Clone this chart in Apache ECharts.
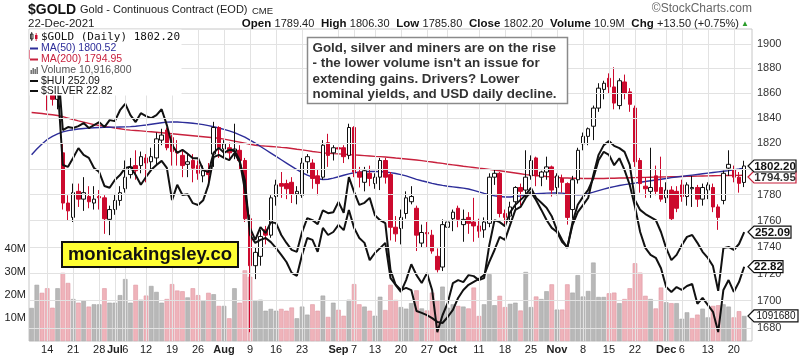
<!DOCTYPE html>
<html><head><meta charset="utf-8">
<script src="https://cdn.jsdelivr.net/npm/echarts@6/dist/echarts.min.js"></script>
<style>html,body{margin:0;padding:0;background:#fff}#c{width:803px;height:358px}</style>
</head><body><div id="c"></div>
<script>
// ---------- DATA ----------
const dates = ['2021-06-09','2021-06-10','2021-06-11','2021-06-14','2021-06-15','2021-06-16','2021-06-17','2021-06-18','2021-06-21','2021-06-22','2021-06-23','2021-06-24','2021-06-25','2021-06-28','2021-06-29','2021-06-30',
'2021-07-01','2021-07-02','2021-07-06','2021-07-07','2021-07-08','2021-07-09','2021-07-12','2021-07-13','2021-07-14','2021-07-15','2021-07-16','2021-07-19','2021-07-20','2021-07-21','2021-07-22','2021-07-23','2021-07-26','2021-07-27','2021-07-28','2021-07-29','2021-07-30',
'2021-08-02','2021-08-03','2021-08-04','2021-08-05','2021-08-06','2021-08-09','2021-08-10','2021-08-11','2021-08-12','2021-08-13','2021-08-16','2021-08-17','2021-08-18','2021-08-19','2021-08-20','2021-08-23','2021-08-24','2021-08-25','2021-08-26','2021-08-27','2021-08-30','2021-08-31',
'2021-09-01','2021-09-02','2021-09-03','2021-09-07','2021-09-08','2021-09-09','2021-09-10','2021-09-13','2021-09-14','2021-09-15','2021-09-16','2021-09-17','2021-09-20','2021-09-21','2021-09-22','2021-09-23','2021-09-24','2021-09-27','2021-09-28','2021-09-29','2021-09-30',
'2021-10-01','2021-10-04','2021-10-05','2021-10-06','2021-10-07','2021-10-08','2021-10-11','2021-10-12','2021-10-13','2021-10-14','2021-10-15','2021-10-18','2021-10-19','2021-10-20','2021-10-21','2021-10-22','2021-10-25','2021-10-26','2021-10-27','2021-10-28','2021-10-29',
'2021-11-01','2021-11-02','2021-11-03','2021-11-04','2021-11-05','2021-11-08','2021-11-09','2021-11-10','2021-11-11','2021-11-12','2021-11-15','2021-11-16','2021-11-17','2021-11-18','2021-11-19','2021-11-22','2021-11-23','2021-11-24','2021-11-26','2021-11-29','2021-11-30',
'2021-12-01','2021-12-02','2021-12-03','2021-12-06','2021-12-07','2021-12-08','2021-12-09','2021-12-10','2021-12-13','2021-12-14','2021-12-15','2021-12-16','2021-12-17','2021-12-20','2021-12-21','2021-12-22'];

const open = [1895,1888,1896,1875,1864,1855,1812.5,1773.5,1762.5,1782.5,
1776.5,1778.5,1773.5,1778.5,1777.5,1761,1768.5,1775.5,1784.5,1795.5,
1802.5,1802.5,1808.5,1805.5,1808.5,1822.5,1830.5,1824.5,1813.5,1810.5,
1803.5,1806.5,1802.5,1794.5,1798.5,1811.5,1832.5,1815.5,1816.5,1813.5,
1814.5,1806.5,1761.5,1726,1733,1753,1749,1778.5,1788.5,1788.5,
1789.5,1780.5,1779.5,1805.5,1804.5,1794.5,1793.5,1820.5,1812.5,1816.5,
1816.5,1810.5,1832.5,1797.5,1789.5,1796.5,1788.5,1793.5,1806.5,1795.5,
1755,1754,1765.5,1774.5,1769.5,1743,1751,1749,1733,1725,
1755,1761.5,1769.5,1757,1762.5,1759,1756,1753,1758,1793.5,
1796.5,1765.5,1763.5,1774.5,1785.5,1783.5,1794.5,1808.5,1793.5,1797.5,
1801.5,1785.5,1792.5,1788.5,1768.5,1791.5,1819.5,1825.5,1833.5,1848,
1863,1872,1865,1850,1869,1861,1848,1806.5,1786.5,1782.5,
1794.5,1785.5,1777.5,1783.5,1782.5,1787.5,1778.5,1784.5,1785.5,1776.5,
1783.5,1785.5,1770.5,1775.5,1800.5,1799.5,1793.5,1789.4];

const high = [1900,1902,1903,1879,1866,1864,1819.5,1779.5,1788.5,1788.5,
1793.5,1786.5,1786.5,1783.5,1779.5,1771.5,1780.5,1786.5,1806.5,1808.5,
1814.5,1813.5,1811.5,1816.5,1828.5,1831.5,1832.5,1826.5,1822.5,1814.5,
1812.5,1811.5,1806.5,1802.5,1804.5,1837,1833.5,1822.5,1820.5,1835.5,
1818.5,1808.5,1764.5,1740,1753,1756,1779.5,1791.5,1797.5,1791.5,
1793.5,1786.5,1808.5,1811.5,1807.5,1799.5,1822.5,1827.5,1818.5,1819.5,
1818.5,1835.5,1833.5,1801.5,1801.5,1802.5,1796.5,1808.5,1808.5,1797.5,
1763.5,1768.5,1782.5,1786.5,1771.5,1757,1759,1753,1739,1761,
1762.5,1768.5,1771.5,1768.5,1766.5,1777.5,1761.5,1762.5,1796.5,1799.5,
1797.5,1768.5,1774.5,1786.5,1788.5,1814.5,1810.5,1809.5,1798.5,1809.5,
1802.5,1796.5,1795.5,1789.5,1794.5,1816.5,1828.5,1832.5,1850,1868,
1870,1876,1881,1872,1875,1864,1850,1808.5,1793.5,1816.5,
1802.5,1809.5,1789.5,1786.5,1786.5,1791.5,1789.5,1794.5,1787.5,1788.5,
1789.5,1788.5,1772.5,1798.5,1814.5,1802.5,1797.5,1806.3];

const low = [1885,1883,1870,1846,1850,1847,1768.5,1760,1759,1770.5,
1767.5,1769.5,1768.5,1768.5,1750,1749,1764.5,1771.5,1781.5,1792.5,
1791.5,1796.5,1789.5,1799.5,1802.5,1818.5,1814.5,1802.5,1802.5,1793.5,
1793.5,1789.5,1791.5,1789.5,1786.5,1801.5,1808.5,1808.5,1806.5,1807.5,
1799.5,1759,1677,1716,1726,1742,1747,1771.5,1777.5,1776.5,
1773.5,1772.5,1777.5,1796.5,1784.5,1779.5,1791.5,1801.5,1806.5,1799.5,
1804.5,1807.5,1793.5,1785.5,1782.5,1786.5,1784.5,1783.5,1788.5,1745,
1744,1742,1761.5,1772.5,1737,1740,1740,1735,1721,1722,
1747,1752,1755,1744,1750,1744,1747,1747,1755,1787.5,
1762.5,1757,1759,1768.5,1771.5,1776.5,1791.5,1786.5,1786.5,1791.5,
1778.5,1779.5,1781.5,1757,1761.5,1788.5,1814.5,1818.5,1822.5,1845,
1855,1860,1847,1847,1855,1845,1801.5,1781.5,1777.5,1777.5,
1779.5,1774.5,1773.5,1760,1766.5,1774.5,1771.5,1770.5,1770.5,1771.5,
1776.5,1766.5,1753,1772.5,1794.5,1789.5,1781.5,1785.8];

const close = [1888,1896,1878,1864,1855,1859,1773.5,1767.5,1781.5,1776.5,
1781.5,1774.5,1776.5,1777.5,1761.5,1768.5,1775.5,1781.5,1793.5,1801.5,
1798.5,1809.5,1804.5,1809.5,1823.5,1826.5,1816.5,1813.5,1812.5,1802.5,
1805.5,1800.5,1796.5,1798.5,1795.5,1832.5,1816.5,1819.5,1812.5,1815.5,
1806.5,1761.5,1726,1736,1748,1749,1777.5,1787.5,1786.5,1784.5,
1780.5,1782.5,1804.5,1809.5,1792.5,1788.5,1818.5,1810.5,1816.5,1815.5,
1809.5,1832.5,1797.5,1793.5,1798.5,1792.5,1793.5,1806.5,1793.5,1755,
1750,1762.5,1777.5,1778.5,1749,1751,1750,1737,1723,1757,
1759,1766.5,1761,1761,1758,1756,1752,1759,1793.5,1796.5,
1765.5,1762.5,1770.5,1785.5,1782.5,1793.5,1806.5,1794.5,1797.5,1801.5,
1783.5,1794.5,1789.5,1762.5,1791.5,1814.5,1825.5,1831.5,1848,1864,
1868,1865,1852,1870,1860,1851,1805.5,1788.5,1784.5,1785.5,
1782.5,1776.5,1783.5,1761.5,1769.5,1778.5,1787.5,1785.5,1776.5,1785.5,
1787.5,1770.5,1762.5,1796.5,1803.5,1793.5,1788.7,1802.2];

// volume in millions
const volume = [14.4,24.5,21.0,23.0,14.5,23.0,29.7,25.3,18.3,16.7,
17.5,15.0,16.0,16.0,23.0,16.7,16.7,20.0,27.0,16.7,
24.5,18.0,19.8,24.0,21.4,16.7,18.3,24.8,22.0,21.7,
19.0,23.0,20.0,17.5,21.0,20.4,15.3,15.3,9.9,23.0,
16.7,30.8,28.0,17.5,18.0,13.2,14.0,13.2,14.0,13.2,
14.6,9.9,15.0,11.5,16.0,13.2,19.8,10.5,16.7,13.6,
11.0,18.0,24.8,16.0,15.0,13.2,11.0,19.3,13.5,24.5,
17.9,14.8,14.1,16.5,22.1,14.2,13.3,21.1,17.5,23.7,
14.5,16.0,15.3,15.0,14.2,23.3,10.9,16.0,29.1,15.6,
19.7,14.8,16.2,16.7,13.3,30.1,14.8,19.4,18.3,21.7,
24.7,13.7,13.7,24.7,21.1,28.7,19.4,21.8,34.2,19.2,
19.2,20.8,21.1,16.5,18.3,23.0,33.9,29.8,19.7,18.3,
14.2,23.3,16.9,16.5,16.5,9.7,12.5,10.0,11.5,14.1,
10.3,15.3,15.6,16.0,15.0,10.3,13.0,10.9168];

const ma50 = [1811,1815.5,1819.5,1823,1825.5,1827.5,1829,1830,1830.7,1831.3,
1831.7,1832,1832.3,1832.5,1832.6,1832.7,1832.8,1832.9,1833,1833.2,
1833.5,1834,1834.5,1835.1,1835.7,1836.3,1836.8,1837,1836.9,1836.6,
1836.3,1835.9,1835.4,1834.8,1834,1833.1,1832.1,1831,1829.8,1828.5,
1826.7,1824.8,1822.5,1820.1,1817.5,1814.9,1812.3,1809.7,1807.1,1804.5,
1801.9,1799.3,1797,1795.1,1793.5,1792.3,1791.7,1791.9,1792.7,1793.8,
1795,1796.1,1796.9,1797.4,1797.7,1797.9,1797.9,1797.8,1797.5,1797,
1796.3,1795.5,1794.5,1793.2,1791.8,1790.7,1789.7,1788.7,1787.8,1787.1,
1786.5,1786,1785.5,1785,1784.3,1783.3,1782.1,1780.9,1779.9,1779.1,
1778.5,1778.2,1778.2,1778.5,1779,1779.6,1780.2,1780.6,1780.9,1781.1,
1781.2,1781.2,1781.1,1780.7,1780.2,1779.9,1780.1,1780.8,1781.9,1783.1,
1784.2,1785.3,1786.2,1787,1787.7,1788.3,1788.9,1789.5,1790.1,1790.7,
1791.3,1791.9,1792.5,1793.1,1793.6,1794.1,1794.6,1795.1,1795.6,1796.1,
1796.6,1797.1,1797.6,1798.1,1798.6,1799.2,1799.8,1800.52];

const ma200 = [1844.4,1844.0,1843.6,1843.1,1842.6,1842.1,1841.1,1840.0,1838.9,1837.8,
1836.8,1835.8,1834.8,1834.1,1833.4,1832.8,1832.1,1831.5,1830.8,1830.4,
1830.1,1829.8,1829.4,1829.1,1828.7,1828.3,1827.9,1827.6,1827.2,1826.8,
1826.4,1826.0,1825.6,1825.2,1824.8,1824.4,1824.0,1823.3,1822.5,1821.7,
1820.9,1820.1,1819.3,1818.5,1818.1,1817.8,1817.5,1817.2,1816.8,1816.5,
1815.9,1815.3,1814.8,1814.2,1813.6,1813.1,1812.5,1812.2,1811.9,1811.7,
1811.4,1811.1,1810.9,1810.6,1810.3,1810.0,1809.7,1809.5,1809.2,1808.8,
1808.4,1808.1,1807.7,1807.3,1806.9,1806.4,1805.8,1805.3,1804.7,1804.2,
1803.6,1803.1,1802.6,1802.0,1801.5,1801.0,1800.5,1800.1,1799.6,1799.1,
1798.5,1797.9,1797.3,1796.7,1796.1,1795.5,1795.1,1794.8,1794.4,1794.0,
1793.7,1793.3,1792.9,1792.8,1792.7,1792.6,1792.5,1792.5,1792.5,1792.5,
1792.5,1792.6,1792.7,1792.8,1792.9,1793.0,1793.1,1793.2,1793.3,1793.4,
1793.5,1793.6,1793.7,1793.8,1793.9,1794.0,1794.1,1794.2,1794.3,1794.4,
1794.5,1794.6,1794.7,1794.75,1794.8,1794.85,1794.9,1794.95];

const hui = [299.4,300.7,298.0,296.7,294.0,291.4,270.0,269.5,271.9,274.5,
272.7,271.9,269.2,268.1,264.4,263.9,266.0,267.3,269.2,269.5,
267.3,264.7,266.8,268.7,270.0,271.1,269.2,260.6,264.7,262.0,
262.2,259.8,259.3,260.6,264.7,272.1,272.7,271.9,271.3,273.2,
270.8,266.0,251.3,249.2,250.0,250.5,249.4,247.8,246.0,244.1,
241.2,240.4,246.0,250.5,250.0,246.8,253.2,251.3,252.1,254.0,
252.6,258.0,253.2,250.5,249.2,244.6,246.5,247.8,249.2,239.8,
238.0,236.6,237.2,236.6,231.0,230.5,229.9,229.1,228.1,227.8,
229.4,231.3,234.5,236.6,238.0,238.8,239.6,240.6,244.1,247.3,
250.8,250.0,254.0,258.0,258.8,261.2,262.8,260.6,258.0,255.3,
253.2,252.1,249.4,248.1,254.0,257.4,259.3,261.2,267.3,272.7,
275.3,276.4,275.1,274.5,273.5,270.0,260.6,258.0,256.9,256.1,
255.3,252.1,247.8,244.6,246.0,248.6,250.8,251.3,249.2,246.8,
245.2,243.0,236.4,247.8,248.1,247.3,248.9,252.09];

const silver = [27.40,27.50,27.36,27.30,27.09,26.95,25.58,25.64,25.62,25.66,
25.72,25.62,25.68,25.74,25.64,25.78,25.76,25.98,26.11,25.88,
25.74,25.92,25.86,25.82,25.88,26.00,25.68,25.28,25.12,25.18,
25.10,25.01,25.01,24.77,24.73,25.12,25.22,25.12,25.18,25.17,
24.97,24.37,23.60,23.36,23.62,23.50,23.72,23.70,23.46,23.30,
23.16,23.12,23.52,23.80,23.76,23.68,23.96,23.90,23.92,24.13,
23.91,24.63,24.33,24.07,24.11,24.21,23.86,23.76,23.70,22.75,
22.45,22.31,22.55,22.87,22.65,22.49,22.69,22.35,21.50,21.84,
22.09,22.49,22.55,22.51,22.65,22.63,22.55,22.59,23.26,23.76,
23.72,23.64,23.92,24.07,24.17,24.27,24.41,24.21,24.11,24.01,
23.84,23.56,23.36,23.20,23.72,24.07,24.23,24.37,24.61,24.97,
25.14,25.08,24.87,25.01,24.77,24.47,24.03,23.52,23.20,23.06,
23.00,22.79,22.41,22.31,22.41,22.35,22.43,22.47,22.07,22.19,
22.05,21.91,21.50,22.35,22.55,22.31,22.51,22.82];

const tickDates = ['2021-06-14','2021-06-21','2021-06-28','2021-07-01','2021-07-06','2021-07-12','2021-07-19','2021-07-26','2021-08-02','2021-08-09','2021-08-16','2021-08-23','2021-09-01','2021-09-07','2021-09-13','2021-09-20','2021-09-27','2021-10-01','2021-10-11','2021-10-18','2021-10-25','2021-11-01','2021-11-08','2021-11-15','2021-11-22','2021-12-01','2021-12-06','2021-12-13','2021-12-20'];
const tickLabels = ['14','21','28','Jul','6','12','19','26','Aug','9','16','23','Sep','7','13','20','27','Oct','11','18','25','Nov','8','15','22','Dec','6','13','20'];
const priceTicks = [1680,1700,1720,1740,1760,1780,1800,1820,1840,1860,1880,1900];
const volumeTicks = [10,20,30,40];

// ---------- CHART ----------
const FONT = '"Liberation Sans", Arial, sans-serif';
const chart = echarts.init(document.getElementById('c'));
const cats = dates.concat(['']);
const tickMap = {};
tickDates.forEach((d, i) => { tickMap[d] = tickLabels[i]; });
const candleData = dates.map((d, i) => [open[i], close[i], low[i], high[i]]);
const pinkStyle = { color: '#efb3ba', borderColor: '#df97a2', borderWidth: 0.6 };
const grayStyle = { color: '#b8b8b8', borderColor: '#a4a4a4', borderWidth: 0.6 };
const volData = volume.map((v, i) => ({ value: v, itemStyle: (i > 0 && close[i] < close[i - 1]) ? pinkStyle : grayStyle }));

const option = {
  animation: false,
  grid: { left: 29, right: 51, top: 29, bottom: 17, show: true, borderColor: '#c6c6c6', borderWidth: 1, backgroundColor: 'transparent' },
  xAxis: {
    type: 'category', data: cats, boundaryGap: true,
    axisLine: { show: false }, axisTick: { show: false }, splitLine: { show: false },
    axisLabel: {
      interval: (i, v) => tickMap[v] !== undefined,
      formatter: (v) => { const t = tickMap[v]; if (t === undefined) return ''; return /^\d+$/.test(t) ? t : '{b|' + t + '}'; },
      fontSize: 11, color: '#222', fontFamily: FONT, margin: 3,
      rich: { b: { fontWeight: 'bold', fontSize: 11, fontFamily: FONT, color: '#222' } }
    }
  },
  yAxis: [
    { type: 'log', logBase: 10, min: 1670.6, max: 1912.4, show: false, position: 'right' },
    { type: 'value', min: 0, max: 136, interval: 10, position: 'left',
      axisLine: { show: false }, axisTick: { show: false }, splitLine: { show: false },
      axisLabel: { formatter: v => volumeTicks.includes(v) ? v + 'M' : '', fontSize: 11, color: '#222', fontFamily: FONT, margin: 3 } },
    { type: 'value', min: 223, max: 306.3, show: false },
    { type: 'value', min: 21.32, max: 27.62, show: false }
  ],
  series: [
    { type: 'line', data: close, yAxisIndex: 0, symbol: 'none', silent: true, z: 0,
      lineStyle: { opacity: 0 },
      markLine: {
        silent: true, symbol: ['none', 'none'], animation: false,
        lineStyle: { color: '#e2e2e2', width: 1, type: 'solid' },
        label: { show: true, position: 'end', formatter: p => String(p.value), fontSize: 11, color: '#333', fontFamily: FONT, distance: 5 },
        emphasis: { disabled: true },
        data: priceTicks.map(v => ({ yAxis: v })).concat(tickDates.map(d => ({ xAxis: d, label: { show: false } })))
      } },
    { type: 'bar', data: volData, yAxisIndex: 1, barWidth: '88%', z: 1, silent: true },
    { type: 'line', data: ma200, yAxisIndex: 0, symbol: 'none', silent: true, z: 2, lineStyle: { color: '#c8213d', width: 1.4 } },
    { type: 'line', data: ma50, yAxisIndex: 0, symbol: 'none', silent: true, z: 2, lineStyle: { color: '#2d2d99', width: 1.4 } },
    { type: 'candlestick', data: candleData, yAxisIndex: 0, barWidth: 4, z: 3, silent: true,
      itemStyle: { color: '#ffffff', color0: '#cc0a2e', borderColor: '#111111', borderColor0: '#cc0a2e', borderWidth: 1 } },
    { type: 'line', data: hui, yAxisIndex: 2, symbol: 'none', silent: true, z: 4, lineStyle: { color: '#111', width: 2 } },
    { type: 'line', data: silver, yAxisIndex: 3, symbol: 'none', silent: true, z: 4, lineStyle: { color: '#111', width: 2 } }
  ]
};
chart.setOption(option);

// ---------- OVERLAYS ----------
const last = dates.length - 1;
const chg = close[last] - close[last - 1];
const pct = chg / close[last - 1] * 100;
const volFull = Math.round(volume[last] * 1e6);
const Z = 100;
function txt(x, y, text, font, fill, align, extra) {
  return Object.assign({ type: 'text', x: x, y: y, z: Z,
    style: { text: text, font: font, fill: fill, textAlign: align || 'left', align: align || 'left', textVerticalAlign: 'middle', verticalAlign: 'middle' } }, extra || {});
}
const g = [];
// header
g.push(txt(28, 10, '$GOLD', 'bold 14px ' + FONT, '#111'));
g.push(txt(80, 10, 'Gold - Continuous Contract (EOD)', '11px ' + FONT, '#222'));
g.push(txt(252, 11, 'CME', '9.5px ' + FONT, '#222'));
g.push(txt(28, 23.5, '22-Dec-2021', '11.5px ' + FONT, '#222'));
g.push(txt(752, 9, '\u00A9StockCharts.com', '12px ' + FONT, '#666', 'right'));
g.push({ type: 'text', x: 739, y: 23.5, z: Z, style: {
  text: '{l|Open} {v|' + open[last].toFixed(2) + '}  {l|High} {v|' + high[last].toFixed(2) + '}  {l|Low} {v|' + low[last].toFixed(2) + '}  {l|Close} {v|' + close[last].toFixed(2) + '}  {l|Volume} {v|' + volume[last].toFixed(1) + 'M}  {l|Chg} {v|+' + chg.toFixed(2) + ' (+' + pct.toFixed(2) + '%)}',
  textAlign: 'right', align: 'right', textVerticalAlign: 'middle', verticalAlign: 'middle',
  rich: { l: { font: 'bold 11.5px ' + FONT, fill: '#111' }, v: { font: '11px ' + FONT, fill: '#222' } } } });
g.push(txt(745, 23.5, '\u25B2', '8px ' + FONT, '#2a9d2a', 'center'));

// legend block
g.push({ type: 'rect', z: Z, shape: { x: 29.5, y: 29.5, width: 152, height: 66 }, style: { fill: '#ffffff' } });
g.push({ type: 'rect', z: Z, shape: { x: 30.5, y: 34, width: 2.5, height: 5 }, style: { fill: '#fff', stroke: '#111', lineWidth: 0.8 } });
g.push({ type: 'line', z: Z, shape: { x1: 31.7, y1: 32, x2: 31.7, y2: 41 }, style: { stroke: '#111', lineWidth: 0.8 } });
g.push({ type: 'rect', z: Z, shape: { x: 35, y: 35, width: 2.5, height: 4 }, style: { fill: '#cc0a2e' } });
g.push({ type: 'line', z: Z, shape: { x1: 36.2, y1: 33, x2: 36.2, y2: 41 }, style: { stroke: '#cc0a2e', lineWidth: 0.8 } });
g.push(txt(41, 37.5, '$GOLD (Daily) ' + close[last].toFixed(2), '11px "DejaVu Sans Mono", monospace', '#111'));
function dash(y, color) { g.push({ type: 'line', z: Z, shape: { x1: 30, y1: y, x2: 38, y2: y }, style: { stroke: color, lineWidth: 2 } }); }
dash(48.5, '#2d2d99'); g.push(txt(41, 48.5, 'MA(50) ' + ma50[last].toFixed(2), '10.5px ' + FONT, '#2d2d99'));
dash(59.5, '#c8213d'); g.push(txt(41, 59.5, 'MA(200) ' + ma200[last].toFixed(2), '10.5px ' + FONT, '#c8213d'));
[[30.5, 4], [32.5, 6], [34.5, 5], [36.5, 7]].forEach(b => g.push({ type: 'rect', z: Z, shape: { x: b[0], y: 74 - b[1], width: 1.4, height: b[1] }, style: { fill: '#666' } }));
g.push(txt(41, 70.5, 'Volume ' + volFull.toLocaleString('en-US'), '10.5px ' + FONT, '#555'));
dash(81, '#111'); g.push(txt(41, 81, '$HUI ' + hui[last].toFixed(2), '10.5px ' + FONT, '#111'));
dash(91, '#111'); g.push(txt(41, 91, '$SILVER ' + silver[last].toFixed(2), '10.5px ' + FONT, '#111'));

// annotation
g.push({ type: 'rect', z: Z, shape: { x: 307.5, y: 37.5, width: 260, height: 66 }, style: { fill: '#fff', stroke: '#8a8a8a', lineWidth: 1.5 } });
const noteLines = ['Gold, silver and miners are on the rise', '- the lower volume isn\'t an issue for', 'extending gains. Drivers? Lower', 'nominal yields, and USD daily decline.'];
[48, 63.5, 79, 94.5].forEach((y, i) => g.push(txt(312.5, y, noteLines[i], 'bold 13.4px ' + FONT, '#333')));

// watermark box
g.push({ type: 'rect', z: Z, shape: { x: 62, y: 242, width: 176, height: 25 }, style: { fill: '#ffff33', stroke: '#111', lineWidth: 2 } });
g.push(txt(150, 255, 'monicakingsley.co', 'bold 18.5px ' + FONT, '#111', 'center'));

// right value tags
function tag(y, text, x1, stroke, font, color) {
  const x0 = 748;
  g.push({ type: 'polygon', z: Z + 1, shape: { points: [[x0, y], [x0 + 6, y - 6], [x1, y - 6], [x1, y + 6], [x0 + 6, y + 6]] }, style: { fill: '#fff', stroke: stroke, lineWidth: 1.2 } });
  g.push(Object.assign(txt(x0 + 6 + (x1 - x0 - 6) / 2, y + 0.5, text, font, color || '#111', 'center'), { z: Z + 2 }));
}
const yG = chart.convertToPixel({ yAxisIndex: 0 }, close[last]);
const yM2 = Math.max(chart.convertToPixel({ yAxisIndex: 0 }, ma200[last]), yG + 11);
const yH = chart.convertToPixel({ yAxisIndex: 2 }, hui[last]);
const yS = chart.convertToPixel({ yAxisIndex: 3 }, silver[last]);
const yV = chart.convertToPixel({ yAxisIndex: 1 }, volume[last]);
tag(yM2, ma200[last].toFixed(2), 796, '#c8213d', 'bold 11.5px ' + FONT, '#333');
tag(yG, close[last].toFixed(2), 796, '#111', 'bold 11.5px ' + FONT);
tag(yH, hui[last].toFixed(2), 791, '#111', 'bold 11.5px ' + FONT);
tag(yS, silver[last].toFixed(2), 783, '#111', 'bold 11.5px ' + FONT);
tag(yV, String(volFull).slice(0, 7), 798, '#111', '10px ' + FONT);

chart.setOption({ graphic: { elements: g } });
</script>
</body></html>
